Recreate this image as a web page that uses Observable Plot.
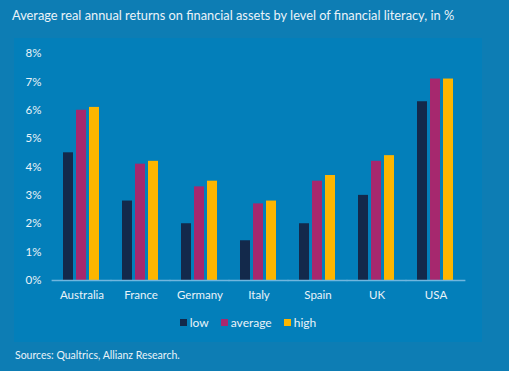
<!DOCTYPE html>
<html>
<head>
<meta charset="utf-8">
<script src="https://cdn.jsdelivr.net/npm/d3@7"></script>
<script src="https://cdn.jsdelivr.net/npm/@observablehq/plot@0.6"></script>
<style>
  html, body { margin: 0; padding: 0; }
  body { width: 509px; height: 371px; background: #0d7db4; position: relative; overflow: hidden; font-family: Lato, "Open Sans", sans-serif; color: #eaf3f9; }
  #title { position: absolute; left: 12px; top: 7px; font-size: 12.8px; line-height: 16px; white-space: nowrap; }
  #panel { position: absolute; left: 14px; top: 38px; width: 468px; height: 304px; background: #037fba; }
  #chart { position: absolute; left: 0; top: 0; }
  #legend { position: absolute; left: 0; width: 468px; top: 277px; text-align: center; font-size: 12px; line-height: 14px; white-space: nowrap; }
  #legend .item { display: inline-flex; align-items: center; margin: 0 6px; }
  #legend .sw { display: inline-block; width: 7px; height: 7px; margin-right: 3px; }
  #source { position: absolute; left: 15px; top: 348px; font-size: 10.5px; line-height: 14px; white-space: nowrap; }
</style>
</head>
<body>
<div id="title">Average real annual returns on financial assets by level of financial literacy, in %</div>
<div id="panel">
  <div id="chart"></div>
  <div id="legend"></div>
</div>
<div id="source">Sources: Qualtrics, Allianz Research.</div>
<script>
const countries = ["Australia", "France", "Germany", "Italy", "Spain", "UK", "USA"];
const levels = ["low", "average", "high"];
const low = [4.5, 2.8, 2.0, 1.4, 2.0, 3.0, 6.3];
const average = [6.0, 4.1, 3.3, 2.7, 3.5, 4.2, 7.1];
const high = [6.1, 4.2, 3.5, 2.8, 3.7, 4.4, 7.1];
const yTicks = [0, 1, 2, 3, 4, 5, 6, 7, 8];
const colors = ["#13294b", "#a6286e", "#fdb600"];

const series = {low, average, high};
const data = [];
countries.forEach((c, i) => {
  levels.forEach(l => data.push({country: c, level: l, value: series[l][i]}));
});

const chart = Plot.plot({
  width: 468,
  height: 272,
  marginLeft: 35,
  marginRight: 15,
  marginTop: 15,
  marginBottom: 30,
  style: {background: "transparent", color: "#eaf3f9", fontFamily: "Lato, 'Open Sans', sans-serif", fontSize: "11.5px"},
  facet: {data, x: "country"},
  fx: {domain: countries, paddingInner: 0.38, paddingOuter: 0.19, axis: "bottom", label: null, tickSize: 0, tickPadding: 10},
  x: {domain: levels, paddingInner: 0.225, paddingOuter: 0, axis: null},
  y: {domain: [0, 8], ticks: yTicks, tickFormat: d => d + "%", tickSize: 0, tickPadding: 22, label: null, grid: false},
  color: {domain: levels, range: colors},
  marks: [
    Plot.barY(data, {x: "level", y: "value", fill: "level"}),
    Plot.ruleY([0], {stroke: "#70b6df", strokeWidth: 1.6, insetLeft: -11.4, insetRight: -11.4})
  ]
});
document.getElementById("chart").appendChild(chart);

const legend = document.getElementById("legend");
levels.forEach((l, i) => {
  const item = document.createElement("span");
  item.className = "item";
  const sw = document.createElement("span");
  sw.className = "sw";
  sw.style.background = colors[i];
  item.appendChild(sw);
  item.appendChild(document.createTextNode(l));
  legend.appendChild(item);
});
</script>
</body>
</html>
